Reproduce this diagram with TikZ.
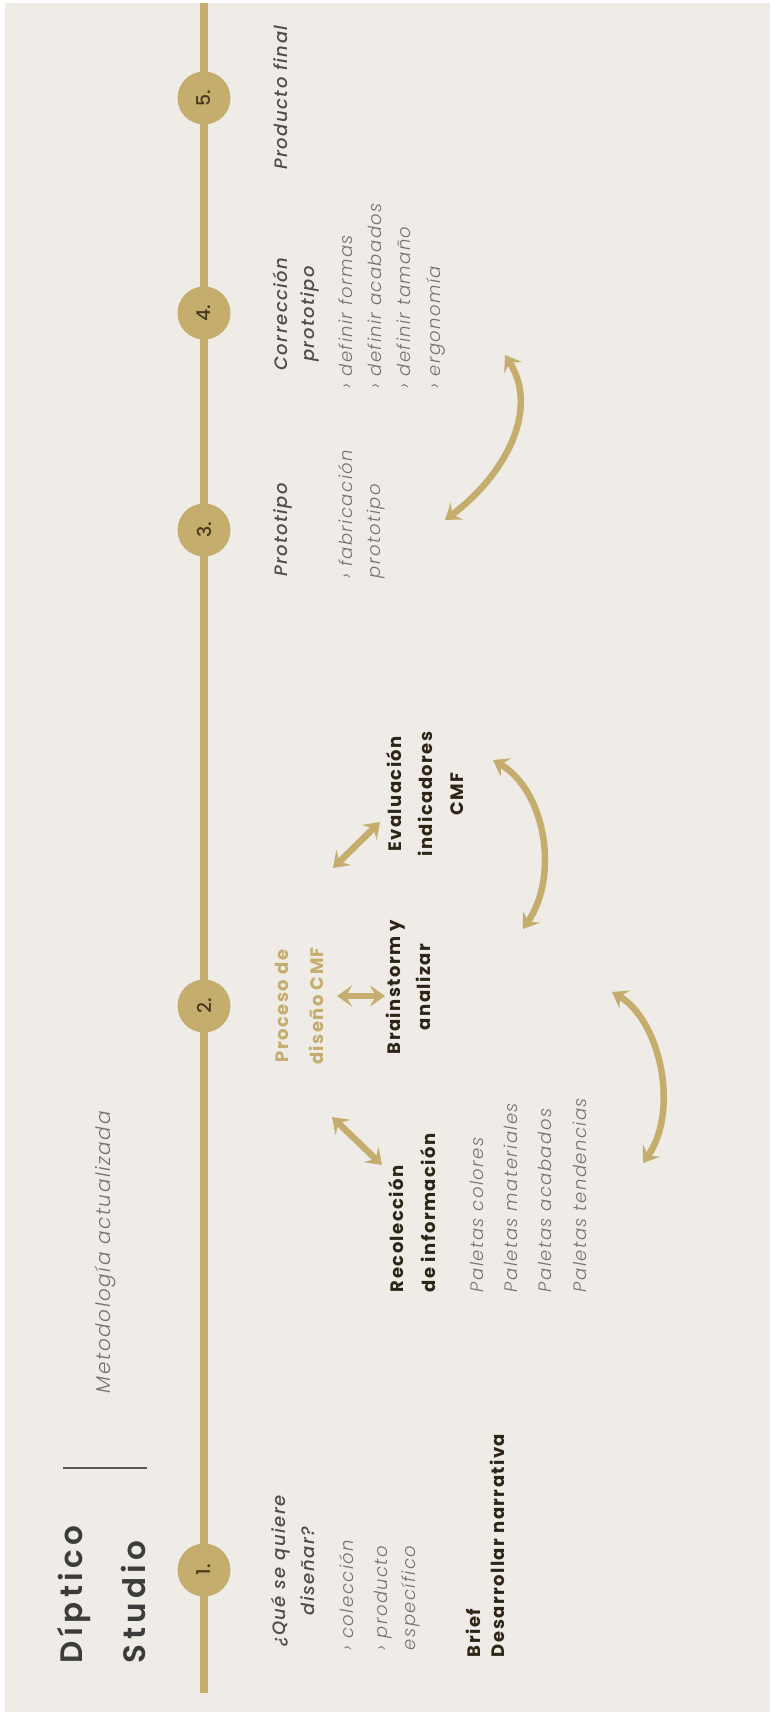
\documentclass[tikz,border=0pt]{standalone}
\usepackage{fontspec}
\usetikzlibrary{arrows.meta}
\newfontfamily\fSemi{Poppins SemiBold}[LetterSpace=14]
\newfontfamily\fBold{Poppins Bold}[LetterSpace=8]
\newfontfamily\fMedIt{Poppins Medium Italic}[LetterSpace=8]
\newfontfamily\fLightIt{Poppins Light Italic}[LetterSpace=8]
\newfontfamily\fMed{Poppins Medium}
\definecolor{bg}{HTML}{EFECE8}
\definecolor{gold}{HTML}{C4AD6D}
\definecolor{ink}{HTML}{2E2517}
\definecolor{numink}{HTML}{4A3A1C}
\definecolor{headc}{HTML}{3C3C3C}
\definecolor{subhead}{HTML}{4E4E4E}
\definecolor{soft}{HTML}{737373}
\tikzset{
  txt/.style={rotate=90, inner sep=0pt, outer sep=0pt},
  lbl/.style={txt, align=left, anchor=base west},
  ctr/.style={txt, align=center, anchor=base},
  title/.style={font={\fSemi\fontsize{31}{40}\selectfont}, text=headc},
  boldlbl/.style={font={\fBold\fontsize{18}{31}\selectfont}, text=ink},
  goldlbl/.style={font={\fBold\fontsize{18}{35}\selectfont}, text=gold},
  headit/.style={font={\fMedIt\fontsize{18}{28}\selectfont}, text=subhead},
  listit/.style={font={\fLightIt\fontsize{18}{29.3}\selectfont}, text=soft},
  stepdot/.style={circle, fill=gold, minimum size=53pt, inner sep=0pt},
  stepnum/.style={txt, font={\fMed\fontsize{19}{22}\selectfont}, text=numink},
  dbl/.style={draw=gold, line width=6.5pt,
    arrows={Stealth[length=15pt,width=21pt,inset=6pt]-Stealth[length=15pt,width=21pt,inset=6pt]}},
}
\begin{document}
\begin{tikzpicture}[x=1pt,y=-1pt]
\useasboundingbox (0,0) rectangle (773,1716);
\fill[white] (0,0) rectangle (773,1716);
\fill[bg] (5,3) rectangle (770,1712);
% timeline
\coordinate (ttop) at (204,3);
\coordinate (tbot) at (204,1693);
\draw[gold, line width=8pt] (ttop) -- (tbot);
% steps
\node[stepdot] (s1) at (204,1570) {};
\node[stepdot] (s2) at (204,1006) {};
\node[stepdot] (s3) at (204,530) {};
\node[stepdot] (s4) at (204,313) {};
\node[stepdot] (s5) at (204,98) {};
\node[stepnum] (n1) at (s1) {1.};
\node[stepnum] (n2) at (s2) {2.};
\node[stepnum] (n3) at (s3) {3.};
\node[stepnum] (n4) at (s4) {4.};
\node[stepnum] (n5) at (s5) {5.};
% title block
\node[lbl, title] (dip) at (82,1663) {Díptico};
\node[lbl, title] (stu) at (145,1663) {Studio};
\coordinate (dv1) at (63,1468);
\coordinate (dv2) at (147,1468);
\draw[line width=2pt, color=headc!85] (dv1) -- (dv2);
\node[lbl, font={\fLightIt\fontsize{20}{26}\selectfont}, text=soft] (met) at (110,1393) {Metodología actualizada};
% step 1 (multi-line nodes: base = baseline of last line)
\node[ctr, headit, font={\fMedIt\fontsize{18}{29}\selectfont}] (q1) at (314,1571) {¿Qué se quiere\\diseñar?};
\node[lbl, listit] (l1a) at (353,1650) {› colección};
\node[lbl, listit, font={\fLightIt\fontsize{18}{28}\selectfont}] (l1b) at (415,1650) {› producto\\específico};
\node[lbl, boldlbl] (brief) at (480,1657) {Brief};
\node[lbl, boldlbl] (narr) at (504,1657) {Desarrollar narrativa};
% step 2
\node[ctr, goldlbl] (proc) at (323,1006) {Proceso de\\diseño CMF};
\node[lbl, boldlbl, font={\fBold\fontsize{18}{32}\selectfont}] (reco) at (435,1292) {Recolección\\de información};
\node[lbl, listit, font={\fLightIt\fontsize{18}{34.3}\selectfont}] (pal) at (586,1292) {Paletas colores\\Paletas materiales\\Paletas acabados\\Paletas tendencias};
\node[ctr, boldlbl, font={\fBold\fontsize{18}{30}\selectfont}] (brain) at (430,987) {Brainstorm y\\analizar};
\node[ctr, boldlbl] (eval) at (463,794) {Evaluación\\indicadores\\CMF};
% step 3
\node[ctr, headit] (proto) at (287,530) {Prototipo};
\node[lbl, listit, font={\fLightIt\fontsize{18}{28}\selectfont}] (fab) at (380,578) {› fabricación\\prototipo};
% step 4
\node[ctr, headit, font={\fMedIt\fontsize{18}{27}\selectfont}] (corr) at (314,314) {Corrección\\prototipo};
\node[lbl, listit] (defs) at (440,388) {› definir formas\\› definir acabados\\› definir tamaño\\› ergonomía};
% step 5
\node[ctr, headit] (prod) at (287,97.5) {Producto final};
% small straight arrows
\coordinate (a1s) at (333,868);
\coordinate (a1e) at (380,822);
\coordinate (a2s) at (337,996);
\coordinate (a2e) at (385,996);
\coordinate (a3s) at (332,1117);
\coordinate (a3e) at (382,1165);
\draw[dbl] (a1s) -- (a1e);
\draw[dbl] (a2s) -- (a2e);
\draw[dbl] (a3s) -- (a3e);
% curved arrows
\coordinate (c1s) at (445,520);
\coordinate (c1e) at (505,355);
\coordinate (c2s) at (493,760);
\coordinate (c2e) at (523,929);
\coordinate (c3s) at (612,992);
\coordinate (c3e) at (643,1163);
\draw[dbl] (c1s) .. controls (505,475) and (540,410) .. (c1e);
\draw[dbl] (c2s) .. controls (545,790) and (560,875) .. (c2e);
\draw[dbl] (c3s) .. controls (660,1020) and (680,1110) .. (c3e);
\end{tikzpicture}
\end{document}
